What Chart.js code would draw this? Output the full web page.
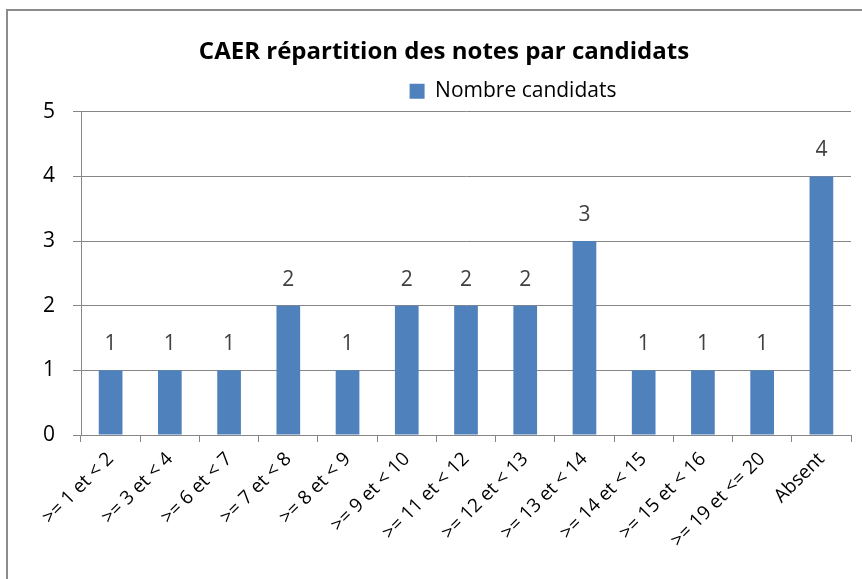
<!DOCTYPE html>
<html>
<head>
<meta charset="utf-8">
<script src="https://cdn.jsdelivr.net/npm/chart.js@4/dist/chart.umd.min.js"></script>
<style>
html,body{margin:0;padding:0;background:#fff;}
#wrap{width:862px;height:579px;position:relative;}
</style>
</head>
<body>
<div id="wrap"><canvas id="c" width="862" height="579"></canvas></div>
<script>
const categories = [">= 1 et < 2", ">= 3 et < 4", ">= 6 et < 7", ">= 7 et < 8", ">= 8 et < 9", ">= 9 et < 10", ">= 11 et < 12", ">= 12 et < 13", ">= 13 et < 14", ">= 14 et < 15", ">= 15 et < 16", ">= 19 et <= 20", "Absent"];
const nombreCandidats = [1, 1, 1, 2, 1, 2, 2, 2, 3, 1, 1, 1, 4];
const yTicks = [0, 1, 2, 3, 4, 5];
const seriesName = "Nombre candidats";
const chartTitle = "CAER répartition des notes par candidats";

const FONT = "'Open Sans', Lato, sans-serif";

const framePlugin = {
  id: 'frame',
  beforeDraw(chart) {
    const ctx = chart.ctx;
    ctx.save();
    ctx.fillStyle = '#ffffff';
    ctx.fillRect(0, 0, chart.width, chart.height);
    ctx.strokeStyle = '#8c8c8c';
    ctx.lineWidth = 2;
    ctx.beginPath();
    ctx.moveTo(7, chart.height);
    ctx.lineTo(7, 10);
    ctx.lineTo(chart.width, 10);
    ctx.stroke();
    ctx.restore();
  }
};

const legendShift = {
  id: 'legendShift',
  afterLayout(chart) {
    if (chart.legend) {
      chart.legend.left += 69;
      chart.legend.right += 69;
    }
  }
};

const valueLabels = {
  id: 'valueLabels',
  afterDatasetsDraw(chart) {
    const ctx = chart.ctx;
    const meta = chart.getDatasetMeta(0);
    ctx.save();
    ctx.font = "21px " + FONT;
    ctx.fillStyle = '#404040';
    ctx.textAlign = 'center';
    ctx.textBaseline = 'middle';
    meta.data.forEach((bar, i) => {
      ctx.fillText(String(chart.data.datasets[0].data[i]), bar.x, bar.y - 26);
    });
    ctx.restore();
  }
};

new Chart(document.getElementById('c'), {
  type: 'bar',
  data: {
    labels: categories,
    datasets: [{
      label: seriesName,
      data: nombreCandidats,
      backgroundColor: '#4F81BD',
      borderWidth: 0,
      barPercentage: 0.4,
      categoryPercentage: 1.0
    }]
  },
  options: {
    responsive: false,
    animation: false,
    devicePixelRatio: 1,
    layout: { padding: { left: 37, right: 11, top: 0, bottom: 0 } },
    plugins: {
      title: {
        display: true,
        text: chartTitle,
        color: '#000000',
        font: { family: FONT, size: 24, weight: 'bold' },
        padding: { top: 38, bottom: 6 }
      },
      legend: {
        display: true,
        position: 'top',
        labels: {
          boxWidth: 15,
          boxHeight: 15,
          padding: 8,
          color: '#000000',
          font: { family: FONT, size: 21 }
        }
      },
      tooltip: { enabled: false }
    },
    scales: {
      x: {
        offset: true,
        grid: {
          offset: true,
          drawOnChartArea: false,
          drawTicks: true,
          tickLength: 7,
          color: '#868686'
        },
        border: { display: true, color: '#868686' },
        ticks: {
          autoSkip: false,
          minRotation: 45,
          maxRotation: 45,
          padding: 6,
          color: '#000000',
          font: { family: FONT, size: 19 }
        },
        afterFit(scale) { scale.height = 144; }
      },
      y: {
        min: 0,
        max: 5,
        afterBuildTicks(scale) { scale.ticks = yTicks.map(v => ({ value: v })); },
        grid: {
          color: '#868686',
          tickLength: 8,
          drawTicks: true
        },
        border: { display: true, color: '#868686' },
        ticks: {
          padding: 18,
          color: '#000000',
          font: { family: FONT, size: 21 }
        },
        afterFit(scale) { scale.width = 44; }
      }
    }
  },
  plugins: [framePlugin, legendShift, valueLabels]
});
</script>
</body>
</html>
